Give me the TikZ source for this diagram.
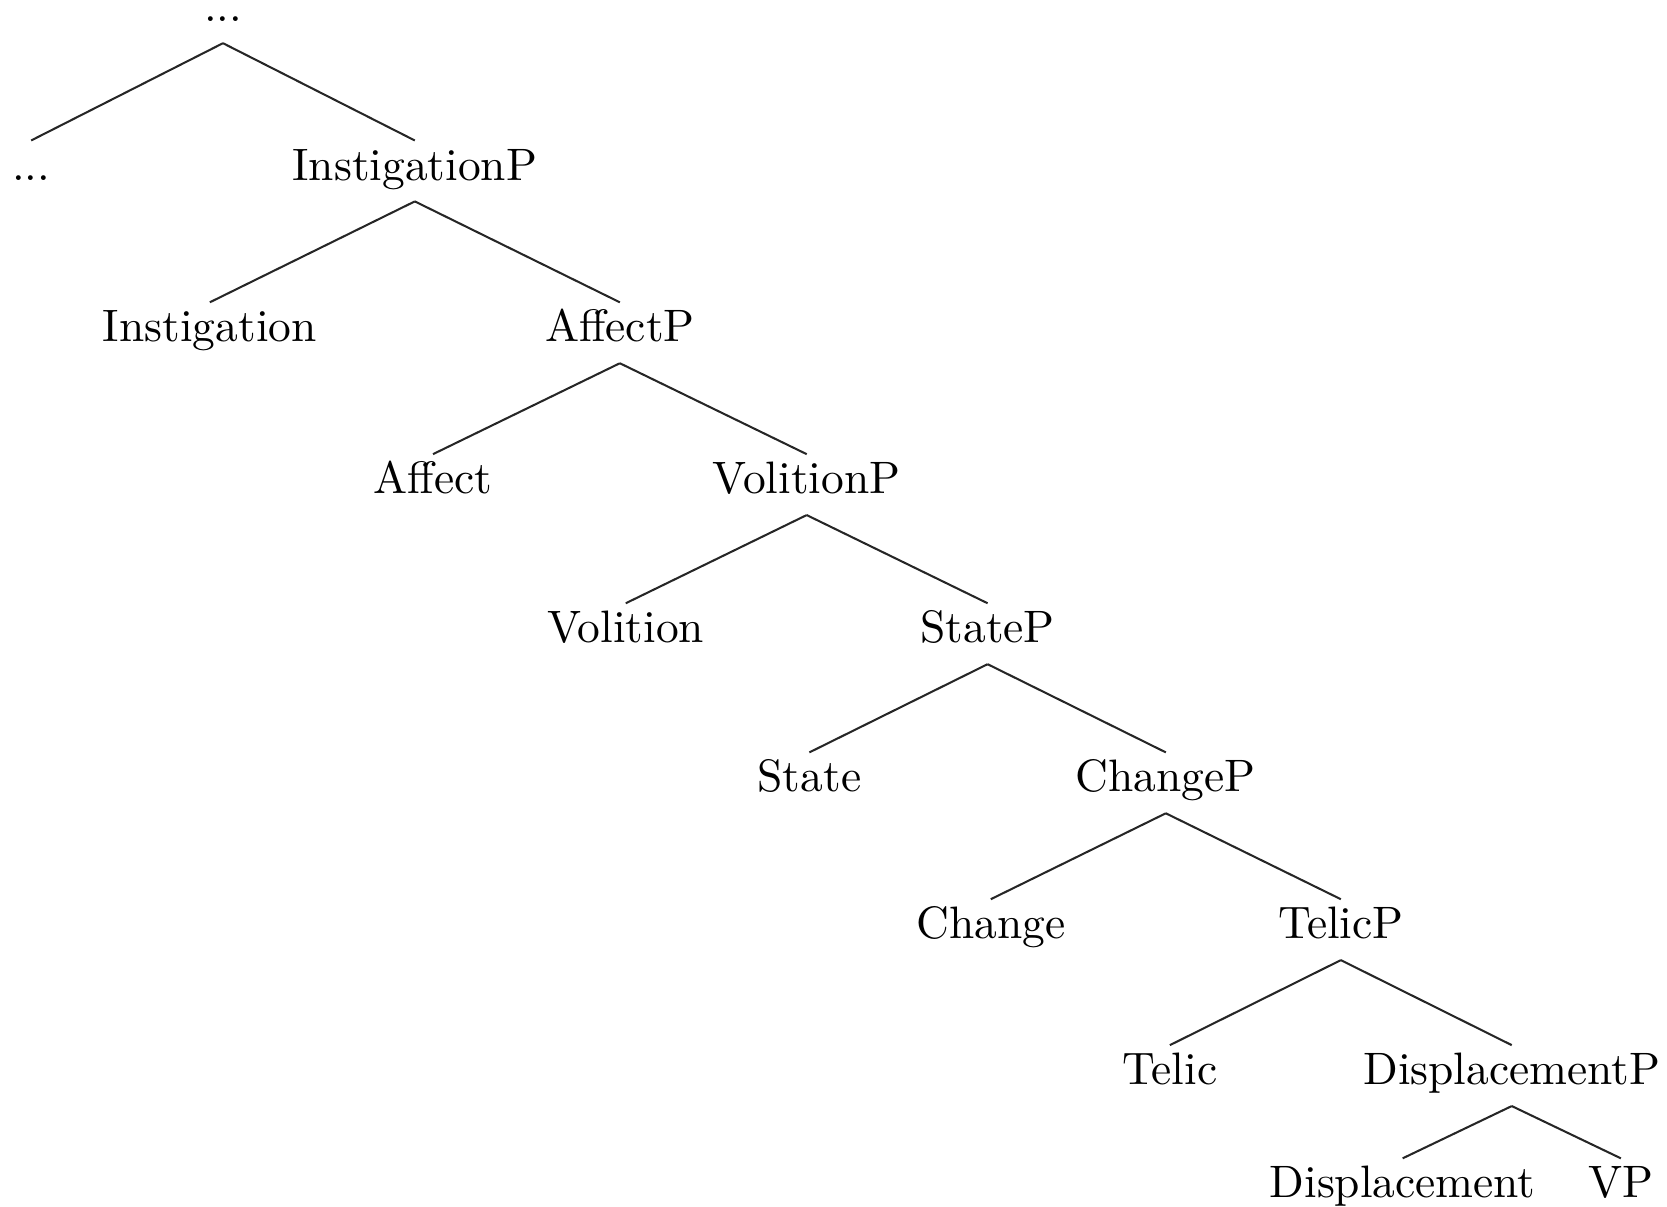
\documentclass[tikz,border=0pt]{standalone}
\usetikzlibrary{positioning}

\begin{document}
\begin{tikzpicture}[
cat/.style={inner sep=1.5pt, text height=7pt, text depth=3pt},
branch/.style={draw=black!85, line width=0.45pt},
on grid,
]
\useasboundingbox (-49.05pt,2.8pt) rectangle (317.65pt,-262.6pt);
%Nodes
\node[cat]      (top)                                                         {...};
\node[cat]      (top_l)            [below left=34.8pt and 42.2pt of top]      {...};
\node[cat]      (instigation_p)    [below right=34.8pt and 42.2pt of top]     {InstigationP};

\node[cat]      (instigation)      [below left=35.6pt and 45.1pt of instigation_p]  {Instigation};
\node[cat]      (affect_p)         [below right=35.6pt and 45.1pt of instigation_p] {AffectP};

\node[cat]      (affect)           [below left=33.4pt and 41.1pt of affect_p]   {Affect};
\node[cat]      (volition_p)       [below right=33.4pt and 41.1pt of affect_p]  {VolitionP};

\node[cat]      (volition)         [below left=32.8pt and 39.8pt of volition_p]  {Volition};
\node[cat]      (state_p)          [below right=32.8pt and 39.8pt of volition_p] {StateP};

\node[cat]      (state)            [below left=32.8pt and 39.2pt of state_p]    {State};
\node[cat]      (change_p)         [below right=32.8pt and 39.2pt of state_p]   {ChangeP};

\node[cat]      (change)           [below left=32.3pt and 38.5pt of change_p]   {Change};
\node[cat]      (telic_p)          [below right=32.3pt and 38.5pt of change_p]  {TelicP};

\node[cat]      (telic)            [below left=32.1pt and 37.6pt of telic_p]    {Telic};
\node[cat]      (displacement_p)   [below right=32.1pt and 37.6pt of telic_p]   {DisplacementP};

\node[cat]      (displacement)     [below left=24.9pt and 24pt of displacement_p]  {Displacement};
\node[cat]      (vp)               [below right=24.9pt and 24pt of displacement_p] {VP};

%Lines
\draw[branch] (top.south) -- (top_l.north);
\draw[branch] (top.south) -- (instigation_p.north);
\draw[branch] (instigation_p.south) -- (instigation.north);
\draw[branch] (instigation_p.south) -- (affect_p.north);
\draw[branch] (affect_p.south) -- (affect.north);
\draw[branch] (affect_p.south) -- (volition_p.north);
\draw[branch] (volition_p.south) -- (volition.north);
\draw[branch] (volition_p.south) -- (state_p.north);
\draw[branch] (state_p.south) -- (state.north);
\draw[branch] (state_p.south) -- (change_p.north);
\draw[branch] (change_p.south) -- (change.north);
\draw[branch] (change_p.south) -- (telic_p.north);
\draw[branch] (telic_p.south) -- (telic.north);
\draw[branch] (telic_p.south) -- (displacement_p.north);
\draw[branch] (displacement_p.south) -- (displacement.north);
\draw[branch] (displacement_p.south) -- (vp.north);

\end{tikzpicture}
\end{document}
